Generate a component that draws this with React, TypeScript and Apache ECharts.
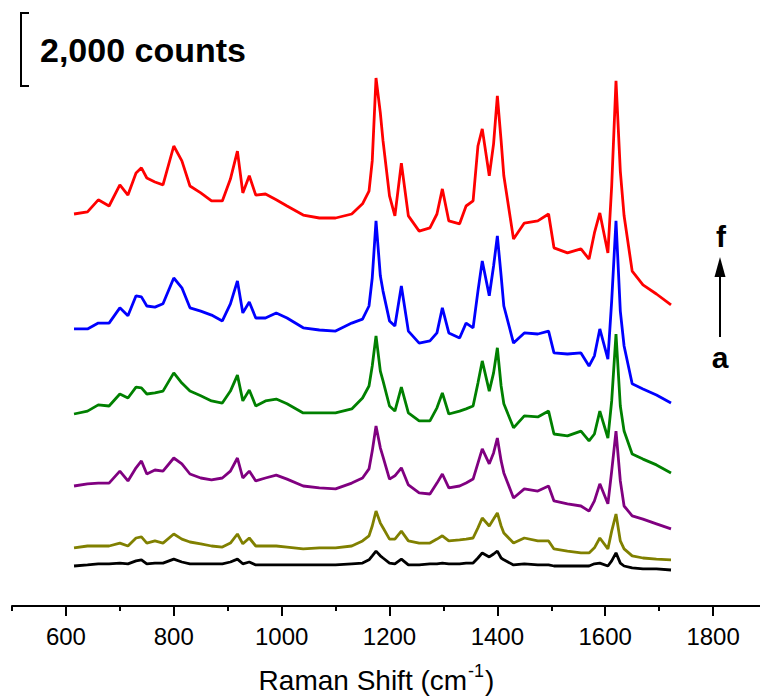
import React, { useEffect, useRef } from "react";
import * as echarts from "echarts";

// Raman shift (cm-1) sample positions shared by all spectra
const ramanShift = [
  615, 640, 660, 680, 700, 715, 730, 740, 750, 765,
  780, 800, 815, 830, 850, 870, 890, 905, 918, 928,
  940, 952, 970, 990, 1010, 1040, 1070, 1100, 1130, 1150,
  1162, 1168, 1175, 1183, 1188, 1200, 1210, 1222, 1235, 1255,
  1275, 1288, 1298, 1310, 1330, 1342, 1355, 1364, 1372, 1385,
  1393, 1400, 1407, 1412, 1430, 1450, 1475, 1495, 1505, 1530,
  1555, 1570, 1580, 1590, 1605, 1612, 1620, 1628, 1635, 1650,
  1670, 1695, 1722,
];

// Stacked intensities (counts, including vertical offset)
const seriesA = [
  1100, 1130, 1160, 1160, 1180, 1160, 1240, 1270, 1160, 1180,
  1180, 1290, 1210, 1160, 1160, 1160, 1160, 1210, 1290, 1160,
  1210, 1130, 1130, 1130, 1130, 1130, 1130, 1130, 1160, 1180,
  1270, 1380, 1510, 1380, 1320, 1180, 1160, 1290, 1130, 1130,
  1160, 1160, 1180, 1160, 1160, 1180, 1180, 1320, 1460, 1350,
  1430, 1510, 1320, 1270, 1130, 1160, 1130, 1130, 1100, 1100,
  1100, 1100, 1160, 1180, 1100, 1240, 1460, 1180, 1100, 1050,
  1020, 1020, 990,
];
const seriesB = [
  1600, 1650, 1650, 1650, 1730, 1650, 1870, 1900, 1730, 1790,
  1730, 1980, 1840, 1760, 1710, 1650, 1620, 1730, 1980, 1710,
  1870, 1650, 1650, 1650, 1620, 1570, 1600, 1600, 1650, 1790,
  1930, 2200, 2610, 2280, 2150, 1840, 1840, 2060, 1790, 1730,
  1730, 1840, 1930, 1790, 1820, 1840, 1870, 2150, 2420, 2200,
  2390, 2560, 2200, 2010, 1730, 1870, 1790, 1790, 1570, 1510,
  1460, 1460, 1600, 1870, 1570, 2060, 2530, 1790, 1570, 1380,
  1320, 1290, 1270,
];
const seriesC = [
  3300, 3360, 3380, 3380, 3710, 3440, 3800, 3990, 3630, 3740,
  3710, 4070, 3910, 3630, 3520, 3470, 3520, 3710, 4070, 3520,
  3710, 3440, 3520, 3600, 3490, 3300, 3250, 3220, 3380, 3520,
  3770, 4260, 4950, 4350, 4100, 3490, 3580, 3800, 3330, 3110,
  3080, 3380, 3630, 3250, 3300, 3380, 3490, 3930, 4320, 3910,
  4210, 4620, 3990, 3660, 2970, 3220, 3160, 3300, 2890, 2810,
  2750, 2610, 2890, 3360, 2810, 3710, 4810, 3440, 2750, 2480,
  2390, 2260, 2120,
];
const seriesD = [
  5280, 5360, 5530, 5500, 5830, 5720, 6020, 6000, 5830, 5860,
  5910, 6410, 6130, 5910, 5780, 5640, 5580, 5910, 6350, 5640,
  5940, 5500, 5640, 5690, 5560, 5310, 5310, 5310, 5420, 5720,
  6050, 6600, 7430, 6460, 6190, 5500, 5360, 6020, 5310, 5090,
  5090, 5450, 5860, 5280, 5360, 5420, 5500, 6130, 6740, 5910,
  6410, 7100, 6050, 5560, 4900, 5230, 5200, 5360, 4730, 4680,
  4810, 4540, 4730, 5360, 4620, 5640, 7480, 5500, 4810, 4180,
  4040, 3880, 3660,
];
const seriesE = [
  7620, 7620, 7780, 7780, 8200, 7980, 8530, 8500, 8250, 8220,
  8310, 9020, 8750, 8200, 8110, 8000, 7840, 8310, 8940, 8060,
  8360, 7920, 7920, 8060, 7920, 7650, 7590, 7560, 7780, 7890,
  8250, 9020, 10590, 9080, 8660, 7840, 7700, 8800, 7560, 7230,
  7290, 7510, 8200, 7510, 7370, 7780, 7650, 8660, 9490, 8530,
  9350, 10180, 9080, 8250, 7230, 7510, 7480, 7560, 6960, 6930,
  6960, 6600, 6880, 7620, 6790, 8390, 10590, 8110, 7150, 6110,
  5970, 5800, 5580,
];
const seriesF = [
  10780, 10840, 11170, 11000, 11580, 11300, 11910, 12050, 11770, 11660,
  11580, 12650, 12240, 11550, 11360, 11140, 11140, 11740, 12510, 11360,
  11830, 11300, 11330, 11170, 11000, 10750, 10670, 10670, 10780, 11060,
  11410, 12240, 14520, 13560, 12790, 11280, 10730, 12180, 10730, 10310,
  10400, 10780, 11470, 10590, 10510, 11000, 11140, 12650, 13120, 11830,
  12710, 14030, 12790, 11830, 10090, 10530, 10590, 10780, 9850, 9710,
  9820, 9540, 10260, 10810, 9710, 11550, 14440, 11960, 10730, 9210,
  8830, 8580, 8280,
];

const spectra = [
  { name: "a", color: "#000000", values: seriesA },
  { name: "b", color: "#808000", values: seriesB },
  { name: "c", color: "#800080", values: seriesC },
  { name: "d", color: "#008000", values: seriesD },
  { name: "e", color: "#0000ff", values: seriesE },
  { name: "f", color: "#ff0000", values: seriesF },
];

const majorTicks = [600, 800, 1000, 1200, 1400, 1600, 1800];
const minorTicks = [500, 700, 900, 1100, 1300, 1500, 1700, 1900];

const FONT = "'Liberation Sans', Arial, sans-serif";

export default function App() {
  const ref = useRef<HTMLDivElement>(null);

  useEffect(() => {
    if (!ref.current) return;
    const chart = echarts.init(ref.current, null, { renderer: "svg" });
    const axisBase = {
      type: "value" as const,
      min: 500,
      max: 1900,
      interval: 100,
      position: "bottom" as const,
      splitLine: { show: false },
    };
    chart.setOption({
      animation: false,
      backgroundColor: "#ffffff",
      grid: {
        left: 12,
        right: -7,
        top: 6,
        bottom: 91,
        containLabel: false,
        outerBoundsMode: "none",
      },
      xAxis: [
        {
          ...axisBase,
          axisLine: { show: true, lineStyle: { color: "#000", width: 2 } },
          axisTick: {
            show: true,
            length: 10,
            lineStyle: { color: "#000", width: 2 },
            customValues: majorTicks,
          },
          axisLabel: {
            customValues: majorTicks,
            formatter: (v: number) => String(v),
            fontFamily: FONT,
            fontSize: 24,
            color: "#000",
            margin: 18,
          },
          name: "{t|Raman Shift (cm}{s|-1}{t|)}",
          nameLocation: "middle",
          nameGap: 56,
          nameTextStyle: {
            padding: [0, 26, 0, 0],
            rich: {
              t: { fontFamily: FONT, fontSize: 28, color: "#000", verticalAlign: "bottom", lineHeight: 32 },
              s: { fontFamily: FONT, fontSize: 18, color: "#000", verticalAlign: "top", lineHeight: 32, padding: [0, 1, 0, 1] },
            },
          },
        },
        {
          ...axisBase,
          axisLine: { show: false },
          axisTick: {
            show: true,
            length: 5,
            lineStyle: { color: "#000", width: 2 },
            customValues: minorTicks,
          },
          axisLabel: { show: false },
        },
      ],
      yAxis: { type: "value", min: 0, max: 16500, show: false },
      series: spectra.map((s) => ({
        name: s.name,
        type: "line",
        xAxisIndex: 0,
        showSymbol: false,
        symbol: "none",
        lineStyle: { color: s.color, width: 2.8 },
        itemStyle: { color: s.color },
        data: ramanShift.map((x, i) => [x, s.values[i]]),
        z: 2,
      })),
      graphic: [
        {
          type: "polyline",
          shape: { points: [[29, 13], [21, 13], [21, 86], [29, 86]] },
          style: { stroke: "#000", lineWidth: 2, fill: "none" },
        },
        {
          type: "text",
          x: 40,
          y: 50,
          style: {
            text: "2,000 counts",
            font: `bold 34px ${FONT}`,
            fill: "#000",
            verticalAlign: "middle",
          },
        },
        {
          type: "text",
          x: 721,
          y: 236,
          style: {
            text: "f",
            font: `bold 30px ${FONT}`,
            fill: "#000",
            align: "center",
            verticalAlign: "middle",
          },
        },
        {
          type: "line",
          shape: { x1: 720, y1: 337, x2: 720, y2: 272 },
          style: { stroke: "#000", lineWidth: 2 },
        },
        {
          type: "polygon",
          shape: { points: [[720, 257], [714.5, 277], [725.5, 277]] },
          style: { fill: "#000" },
        },
        {
          type: "text",
          x: 720,
          y: 357,
          style: {
            text: "a",
            font: `bold 30px ${FONT}`,
            fill: "#000",
            align: "center",
            verticalAlign: "middle",
          },
        },
      ],
    });
    return () => chart.dispose();
  }, []);

  return <div ref={ref} style={{ width: 760, height: 697, position: "absolute", left: 0, top: 0 }} />;
}
